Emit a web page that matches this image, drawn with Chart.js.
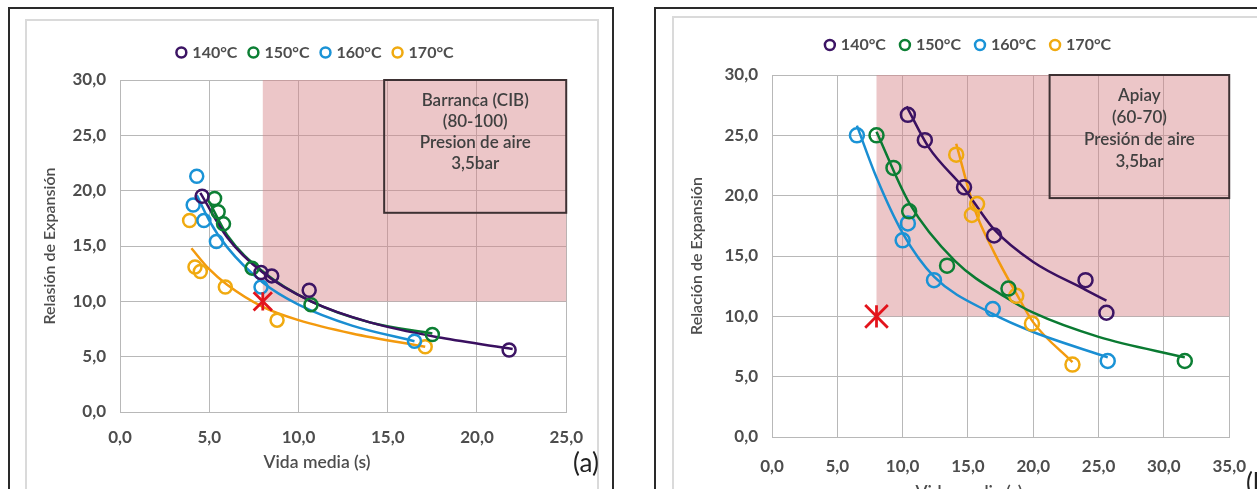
<!DOCTYPE html>
<html>
<head>
<meta charset="utf-8">
<script src="https://cdn.jsdelivr.net/npm/chart.js@4.4.1/dist/chart.umd.min.js"></script>
<style>
  body { margin: 0; width: 1257px; height: 489px; overflow: hidden; background: #fff; position: relative; font-family: Lato, sans-serif; }
  .frame { position: absolute; border: 2px solid #2a2a2a; border-bottom: none; box-sizing: border-box; }
  .inner { position: absolute; border: 2px solid #dadada; border-bottom: none; box-sizing: border-box; }
  canvas { position: absolute; }
  .tag { position: absolute; font-size: 26px; color: #222; line-height: 1; }
</style>
</head>
<body>
<div class="frame" style="left:8px; top:7px; width:606px; height:500px;"></div>
<div class="inner" style="left:25px; top:19px; width:574px; height:500px;"></div>
<canvas id="chartA" width="572" height="469" style="left:26px; top:20px;"></canvas>
<div class="tag" style="left:573px; top:449px;">(a)</div>

<div class="frame" style="left:654px; top:7px; width:700px; height:500px;"></div>
<div class="inner" style="left:672px; top:16px; width:650px; height:500px;"></div>
<canvas id="chartB" width="592" height="497" style="left:673px; top:17px;"></canvas>
<div class="tag" style="left:1246px; top:469px;">(b)</div>

<script>
const seriesNames = ['140°C', '150°C', '160°C', '170°C'];

// (a) Barranca (CIB) - measured points
const a140x = [4.6, 7.9, 8.5, 10.6, 21.8];
const a140y = [19.5, 12.6, 12.3, 11.0, 5.6];
const a150x = [5.3, 5.5, 5.8, 7.4, 10.7, 17.5];
const a150y = [19.3, 18.1, 17.0, 13.0, 9.7, 7.0];
const a160x = [4.3, 4.1, 4.7, 5.4, 7.9, 16.5];
const a160y = [21.3, 18.7, 17.3, 15.4, 11.3, 6.4];
const a170x = [3.9, 4.2, 4.5, 5.9, 8.8, 17.1];
const a170y = [17.3, 13.1, 12.7, 11.3, 8.3, 5.9];

// (a) trend curves
const at140x = [4.5, 6, 8, 10.7, 14, 18, 22];
const at140y = [19.8, 15.8, 12.6, 10.0, 8.1, 6.7, 5.7];
const at150x = [5.0, 6, 8, 10.7, 14, 17.5];
const at150y = [19.0, 16.0, 12.7, 10.0, 8.1, 7.1];
const at160x = [4.3, 5, 6, 8, 10, 13, 16.5];
const at160y = [19.6, 17.3, 14.9, 11.7, 9.7, 7.8, 6.4];
const at170x = [4.0, 5, 6, 8, 10, 13, 17.1];
const at170y = [14.8, 12.9, 11.5, 9.5, 8.3, 7.1, 5.9];

// (b) Apiay - measured points
const b140x = [10.4, 11.7, 14.7, 17.0, 24.0, 25.6];
const b140y = [26.7, 24.6, 20.7, 16.7, 13.0, 10.3];
const b150x = [8.0, 9.3, 10.5, 13.4, 18.1, 31.6];
const b150y = [25.0, 22.3, 18.7, 14.2, 12.3, 6.3];
const b160x = [6.5, 10.0, 10.4, 12.4, 16.9, 25.7];
const b160y = [25.0, 16.3, 17.7, 13.0, 10.6, 6.3];
const b170x = [14.1, 15.3, 15.7, 18.7, 19.9, 23.0];
const b170y = [23.4, 18.4, 19.3, 11.7, 9.4, 6.0];

// (b) trend curves
const bt140x = [10.3, 12, 14.7, 17, 20, 24, 25.6];
const bt140y = [27.4, 24.0, 20.6, 17.2, 14.5, 12.2, 11.3];
const bt150x = [8.0, 10.5, 14, 18, 20, 25, 31.6];
const bt150y = [25.3, 19.4, 14.6, 11.5, 10.3, 8.3, 6.6];
const bt160x = [6.5, 8, 10, 12.4, 16.9, 20, 25.7];
const bt160y = [25.8, 21.5, 16.9, 13.3, 10.2, 8.7, 6.6];
const bt170x = [14.1, 15.5, 17, 18.75, 20, 23.0];
const bt170y = [24.3, 18.9, 15.3, 11.8, 9.5, 6.2];

// target point (red asterisk)
const targetX = [8];
const targetY = [10];

const markerColors = ['#3c1464', '#0c7f34', '#1a93d6', '#f0aa10'];
const lineColors = ['#3a1060', '#0a7a32', '#1a8ed2', '#f39a0e'];
const tickColor = '#4d4d4d';

const fmt = v => v.toFixed(1).replace('.', ',');
const pts = (xs, ys) => xs.map((x, i) => ({ x: x, y: ys[i] }));

// pink zone over the grid, text box and x title centred on the chart
const zonePlugin = {
  id: 'zone',
  beforeDatasetsDraw(chart, args, o) {
    const { ctx, chartArea: a, scales: { x, y } } = chart;
    const left = x.getPixelForValue(o.fromX);
    const bottom = y.getPixelForValue(o.fromY);
    ctx.save();
    ctx.fillStyle = 'rgba(212,128,134,0.45)';
    ctx.fillRect(left, a.top, a.right - left, bottom - a.top);
    ctx.restore();
  },
  afterDatasetsDraw(chart, args, o) {
    const { ctx, chartArea: a, scales: { x, y } } = chart;
    const l = x.getPixelForValue(o.box[0]), r = x.getPixelForValue(o.box[1]);
    const t = y.getPixelForValue(o.box[3]), b = y.getPixelForValue(o.box[2]);
    ctx.save();
    ctx.strokeStyle = '#3d3133';
    ctx.lineWidth = 2;
    ctx.strokeRect(l, t, r - l, b - t);
    ctx.fillStyle = '#404040';
    ctx.font = '600 17px Lato';
    ctx.textAlign = 'center';
    ctx.textBaseline = 'middle';
    o.lines.forEach((s, i) => ctx.fillText(s, (l + r) / 2, t + 21 + i * o.lineGap));
    ctx.fillStyle = tickColor;
    ctx.font = '600 17.5px Lato';
    ctx.fillText(o.xTitle, o.xTitleX, a.bottom + o.xTitleDy);
    ctx.restore();
  }
};

function makeChart(id, c) {
  const datasets = [];
  c.points.forEach((p, i) => datasets.push({
    type: 'scatter', label: seriesNames[i], data: pts(p[0], p[1]),
    borderColor: markerColors[i], backgroundColor: 'rgba(0,0,0,0)',
    borderWidth: 2.5, pointStyle: 'circle', pointRadius: c.r, pointHoverRadius: c.r, order: 1
  }));
  c.trends.forEach((t, i) => datasets.push({
    type: 'line', label: 'trend ' + seriesNames[i], data: pts(t[0], t[1]),
    borderColor: lineColors[i], borderWidth: 2.5, pointRadius: 0, fill: false,
    cubicInterpolationMode: 'monotone', order: 2
  }));
  datasets.push({
    type: 'scatter', label: 'target', data: pts(targetX, targetY),
    borderColor: '#e3141c', borderWidth: 2.8, pointStyle: 'crossRot', pointRadius: c.star, order: 0
  });
  datasets.push({
    type: 'scatter', label: 'target', data: pts(targetX, targetY),
    borderColor: '#e3141c', borderWidth: 2.8, pointStyle: 'line', rotation: 90, pointRadius: c.star * 0.7, order: 0
  });

  return new Chart(document.getElementById(id), {
    type: 'scatter',
    data: { datasets: datasets },
    plugins: [zonePlugin],
    options: {
      responsive: false,
      animation: false,
      layout: { padding: { top: c.padTop, right: 30, left: c.padLeft, bottom: 0 } },
      plugins: {
        legend: {
          position: 'top',
          labels: {
            filter: item => item.datasetIndex < 4,
            usePointStyle: true, boxWidth: 6, boxHeight: 7, padding: c.legendGap,
            color: tickColor, font: { family: 'Lato', size: 16, weight: 'bold' }
          }
        },
        title: { display: true, text: '', weight: 500, padding: 0, font: { size: 10, lineHeight: c.gap / 10 } },
        tooltip: { enabled: false },
        zone: {
          fromX: 8, fromY: 10, box: c.box, lines: c.lines, lineGap: c.lineGap,
          xTitle: 'Vida media (s)', xTitleX: c.xTitleX, xTitleDy: c.xTitleDy
        }
      },
      scales: {
        x: {
          type: 'linear', min: 0, max: c.xMax,
          afterFit: s => { s.height = 77; },
          ticks: { stepSize: 5, padding: c.xTickPad, color: tickColor, font: { family: 'Lato', size: 17, weight: 'bold' }, callback: v => fmt(v) },
          grid: { color: '#b8b8b8', drawTicks: false },
          border: { color: '#b8b8b8' }
        },
        y: {
          type: 'linear', min: 0, max: 30,
          afterFit: s => { s.width = c.yWidth; },
          ticks: { stepSize: 5, padding: 14, color: tickColor, font: { family: 'Lato', size: 17, weight: 'bold' }, callback: v => fmt(v) },
          grid: { color: '#b8b8b8', drawTicks: false },
          border: { color: '#b8b8b8' },
          title: { display: true, text: c.yTitle, color: tickColor, padding: { top: 24 - 9.6 - c.padLeft, bottom: 0 }, font: { family: 'Lato', size: 16, weight: '600' } }
        }
      }
    }
  });
}

makeChart('chartA', {
  points: [[a140x, a140y], [a150x, a150y], [a160x, a160y], [a170x, a170y]],
  trends: [[at140x, at140y], [at150x, at150y], [at160x, at160y], [at170x, at170y]],
  xMax: 25, r: 6.5, star: 13, padTop: 11.5, gap: 9.5, padLeft: 38, yWidth: 56, xTickPad: 15,
  legendGap: 13, xTitleX: 291, xTitleDy: 50,
  yTitle: 'Relasión de Expansión',
  box: [14.8, 25, 18.0, 30], lineGap: 21,
  lines: ['Barranca (CIB)', '(80-100)', 'Presion de aire', '3,5bar']
});

makeChart('chartB', {
  points: [[b140x, b140y], [b150x, b150y], [b160x, b160y], [b170x, b170y]],
  trends: [[bt140x, bt140y], [bt150x, bt150y], [bt160x, bt160y], [bt170x, bt170y]],
  xMax: 35, r: 7, star: 16, padTop: 4, gap: 12, padLeft: 30, yWidth: 69, xTickPad: 19,
  legendGap: 16, xTitleX: 296, xTitleDy: 55,
  yTitle: 'Relación de Expansión',
  box: [21.25, 35, 19.8, 30], lineGap: 22,
  lines: ['Apiay', '(60-70)', 'Presión de aire', '3,5bar']
});
</script>
</body>
</html>
